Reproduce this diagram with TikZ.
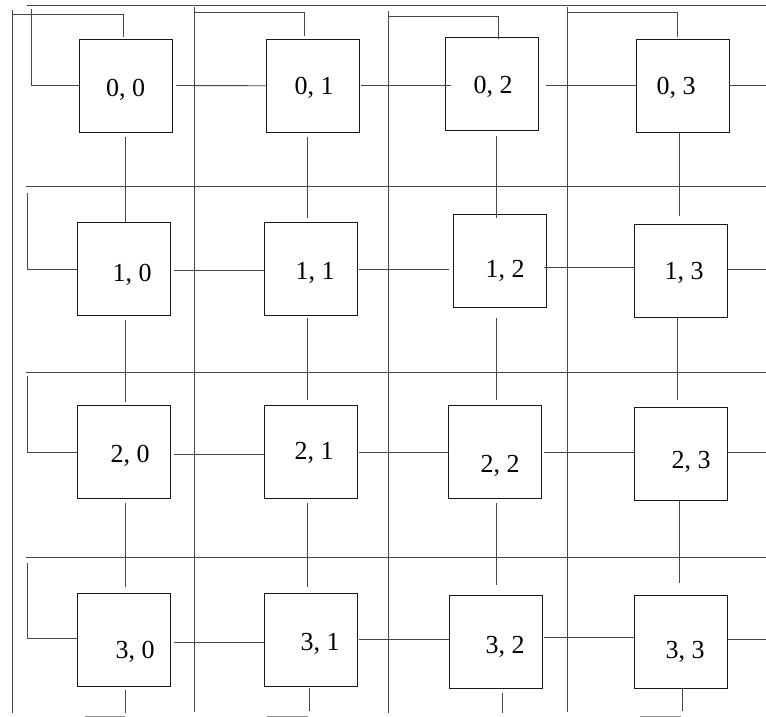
\documentclass[tikz,border=0pt]{standalone}
\usepackage{fontspec}
\usetikzlibrary{calc}
\newfontfamily\pelabfamily{Liberation Serif}
\newcommand\pelabfont{\pelabfamily\fontsize{26}{30}\selectfont}
\tikzset{
  wire/.style={draw=black!72, line width=0.9pt},
  bwire/.style={draw=black!45, line width=0.9pt},
  pe/.style={draw=black!90, line width=0.9pt, minimum width=93pt, minimum height=93pt, inner sep=0pt, fill=none},
  lab/.style={font=\pelabfont, anchor=base, inner sep=0pt}
}
\begin{document}
\begin{tikzpicture}[x=1pt,y=-1pt]
\useasboundingbox (0,0) rectangle (766,717);
\coordinate (Redge) at (766,0);
% processing elements
\node[pe] (b00) at (125.5,85.5) {};
\node[pe] (b01) at (312.5,85.75) {};
\node[pe] (b02) at (491.5,83.5) {};
\node[pe] (b03) at (682.5,85.5) {};
\node[pe] (b10) at (123.5,269) {};
\node[pe] (b11) at (310.5,269) {};
\node[pe] (b12) at (499.5,261) {};
\node[pe] (b13) at (680.5,271) {};
\node[pe] (b20) at (123.5,452) {};
\node[pe] (b21) at (310.5,452) {};
\node[pe] (b22) at (494.5,452) {};
\node[pe] (b23) at (680.5,454) {};
\node[pe] (b30) at (123.5,639.5) {};
\node[pe] (b31) at (310.5,639.5) {};
\node[pe] (b32) at (495.5,642) {};
\node[pe] (b33) at (680.5,642) {};
% labels
\node[lab] (l00) at (125.5,96) {0, 0};
\node[lab] (l01) at (314,95) {0, 1};
\node[lab] (l02) at (493,94) {0, 2};
\node[lab] (l03) at (676,95) {0, 3};
\node[lab] (l10) at (132,281) {1, 0};
\node[lab] (l11) at (315,279) {1, 1};
\node[lab] (l12) at (505,277) {1, 2};
\node[lab] (l13) at (684,279) {1, 3};
\node[lab] (l20) at (130,462) {2, 0};
\node[lab] (l21) at (314,459) {2, 1};
\node[lab] (l22) at (500,472) {2, 2};
\node[lab] (l23) at (691,468) {2, 3};
\node[lab] (l30) at (135,658) {3, 0};
\node[lab] (l31) at (320,650) {3, 1};
\node[lab] (l32) at (505,653) {3, 2};
\node[lab] (l33) at (685,658) {3, 3};
% long horizontal wrap lines
\foreach \y/\x [count=\i] in {5/27,186/26,372/26,557/26} {
  \coordinate (hl\i) at (\x,\y);
  \coordinate (hr\i) at (766,\y);
  \draw[wire] (hl\i) -- (hr\i);
}
% long vertical wrap lines
\foreach \x/\ya/\yb [count=\i] in {12/10/713,194/7/712,388/11/713,567/7/712} {
  \coordinate (vt\i) at (\x,\ya);
  \coordinate (vb\i) at (\x,\yb);
  \draw[wire] (vt\i) -- (vb\i);
}
% top loops into row 0
\coordinate (tl0) at (12,14.7);
\coordinate (tl1) at (194,12.7);
\coordinate (tl2) at (388,16.3);
\coordinate (tl3) at (567,12.7);
\draw[wire] (tl0) -| ($(b00.north)+(-2.5,-2)$);
\draw[wire] (tl1) -| ($(b01.north)+(-8.5,-2.5)$);
\draw[wire] (tl2) -| ($(b02.north)+(6.5,2)$);
\draw[wire] (tl3) -| ($(b03.north)+(-5.5,-2)$);
% left loops
\coordinate (lt0) at (31,9);
\coordinate (lt1) at (27,193);
\coordinate (lt2) at (27,376);
\coordinate (lt3) at (27,563);
\draw[wire] (b00.west) -| (lt0);
\draw[wire] (b10.west) -| (lt1);
\draw[wire] (b20.west) -| (lt2);
\draw[wire] ($(b30.west)+(0,-1.5)$) -| (lt3);
% row 0 horizontal links
\draw[wire] ($(b00.east)+(4,0)$) -- (b01.west);
\draw[wire] ($(b01.east)+(2,0)$) -- ($(b02.west |- b01.east)+(6,0)$);
\draw[wire] ($(b02.east |- b03.west)+(8,0)$) -- (b03.west);
\draw[wire] (b03.east) -- (b03.east -| Redge);
% row 1
\draw[wire] ($(b10.east)+(4,1)$) -- ($(b11.west)+(0,1)$);
\draw[wire] ($(b11.east)+(2,0)$) -- ($(b12.west |- b11.east)+(-4,0)$);
\draw[wire] ($(b12.east)+(-2,6)$) -- ($(b13.west |- b12.east)+(1,6)$);
\draw[wire] ($(b13.east)+(1,-2)$) -- ($(b13.east -| Redge)+(0,-2)$);
% row 2
\draw[wire] ($(b20.east)+(4,2)$) -- ($(b21.west)+(0,2)$);
\draw[wire] ($(b21.east)+(2,0)$) -- ($(b22.west)+(1,0)$);
\draw[wire] ($(b22.east)+(3,0)$) -- ($(b23.west |- b22.east)+(1,0)$);
\draw[wire] ($(b23.east)+(0,-2)$) -- ($(b23.east -| Redge)+(0,-2)$);
% row 3
\draw[wire] ($(b30.east)+(4,2.5)$) -- ($(b31.west)+(0,2.5)$);
\draw[wire] ($(b31.east)+(2,0)$) -- (b32.west |- b31.east);
\draw[wire] ($(b32.east)+(2,-5)$) -- ($(b33.west)+(0,-5)$);
\draw[wire] ($(b33.east)+(1,-3)$) -- ($(b33.east -| Redge)+(0,-3)$);
% column 0 vertical links
\draw[wire] ($(b00.south)+(-0.5,5)$) -- ($(b10.north)+(1.5,0)$);
\draw[wire] ($(b10.south)+(1.5,4)$) -- ($(b20.north)+(1.5,-3)$);
\draw[wire] ($(b20.south)+(1.5,4)$) -- ($(b30.north)+(1.5,-6)$);
% column 1
\draw[wire] ($(b01.south)+(-5.5,4)$) -- ($(b11.north)+(-3.5,-4)$);
\draw[wire] ($(b11.south)+(-3.5,2)$) -- ($(b21.north)+(-3.5,-5)$);
\draw[wire] ($(b21.south)+(-3.5,4)$) -- ($(b31.north)+(-3.5,-6)$);
% column 2
\draw[wire] ($(b02.south)+(4.5,6)$) -- ($(b12.north)+(-3.5,4)$);
\draw[wire] ($(b12.south)+(-3.5,10)$) -- ($(b22.north)+(1.5,-5)$);
\draw[wire] ($(b22.south)+(1.5,4)$) -- ($(b32.north)+(0.5,-10)$);
% column 3
\draw[wire] ($(b03.south)+(-3.5,1)$) -- ($(b13.north)+(-1.5,-8)$);
\draw[wire] ($(b13.south)+(-3.5,0)$) -- ($(b23.north)+(-3.5,-7)$);
\draw[wire] ($(b23.south)+(-1.5,0)$) -- ($(b33.north)+(-1.5,-12)$);
% bottom stubs
\coordinate (bs0) at (125,713);
\coordinate (bs1) at (309,711);
\coordinate (bs2) at (502,713);
\coordinate (bs3) at (682,711);
\draw[wire] ($(b30.south)+(1.5,4)$) -- (bs0);
\draw[wire] ($(b31.south)+(-1.5,2)$) -- (bs1);
\draw[wire] ($(b32.south)+(6.5,4)$) -- (bs2);
\draw[wire] ($(b33.south)+(1.5,0)$) -- (bs3);
% bottom wrap fragments
\coordinate (bh0a) at (85,716); \coordinate (bh0b) at (125,716);
\coordinate (bh1a) at (267,716); \coordinate (bh1b) at (308,716);
\coordinate (bh3a) at (640,716); \coordinate (bh3b) at (681,716);
\draw[bwire] (bh0a) -- (bh0b);
\draw[bwire] (bh1a) -- (bh1b);
\draw[bwire] (bh3a) -- (bh3b);
\end{tikzpicture}
\end{document}
